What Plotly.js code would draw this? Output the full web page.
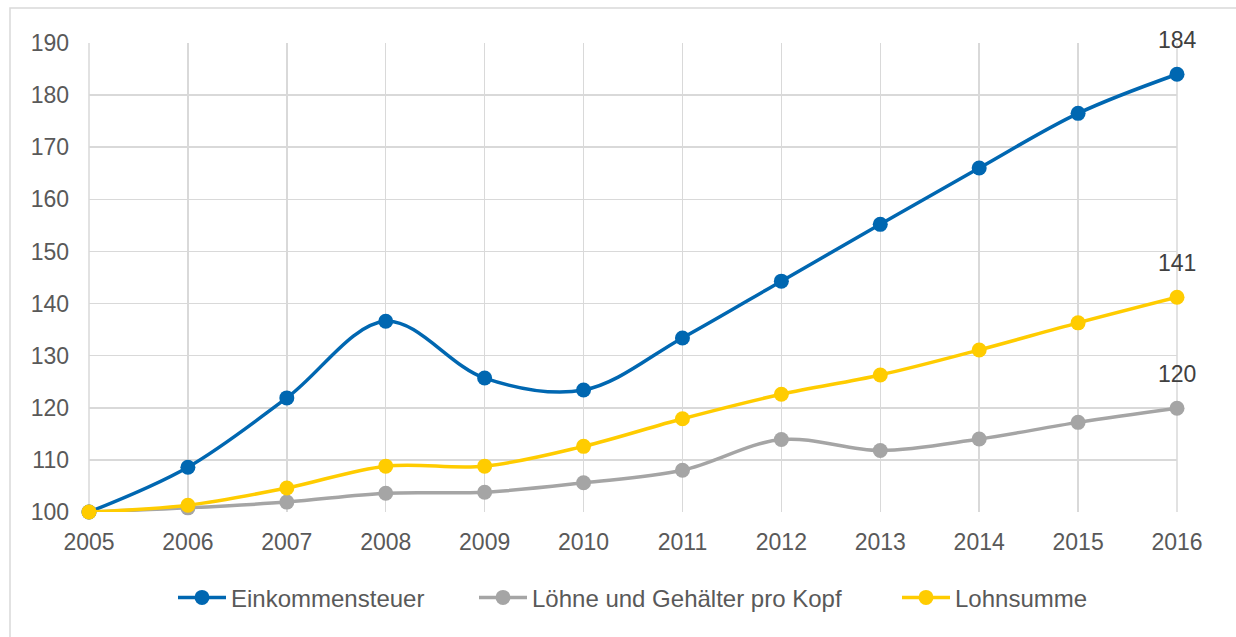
<!DOCTYPE html>
<html><head><meta charset="utf-8">
<script src="https://cdn.plot.ly/plotly-3.0.1.min.js"></script>
<style>html,body{margin:0;padding:0;background:#fff}#chart{width:1236px;height:637px}</style>
</head><body><div id="chart"></div>
<script>
const years = [2005,2006,2007,2008,2009,2010,2011,2012,2013,2014,2015,2016];
const einkommensteuer = [100,108.6,121.9,136.6,125.7,123.4,133.4,144.3,155.2,166.0,176.5,184.0];
const loehneProKopf = [100,100.8,101.9,103.6,103.8,105.6,108.0,113.9,111.8,114.0,117.2,119.9];
const lohnsumme = [100,101.3,104.6,108.8,108.8,112.6,117.9,122.6,126.3,131.1,136.3,141.2];
const seriesNames = ["Einkommensteuer","Löhne und Gehälter pro Kopf","Lohnsumme"];
const endLabels = ["184","120","141"];
const colors = ["#0067B1","#A5A5A5","#FFCC00"];

const font = "Liberation Sans, Arial, sans-serif";
const allSeries = [einkommensteuer, loehneProKopf, lohnsumme];
const legendIds = ['legend','legend2','legend3'];
const data = allSeries.map((vals,k)=>({
  x: years, y: vals, name: seriesNames[k], type:'scatter', mode:'lines+markers',
  line:{color:colors[k], width:3.5, shape:'spline', smoothing:1},
  marker:{color:colors[k], size:15},
  cliponaxis:false, legend: legendIds[k]
}));

const annotations = allSeries.map((vals,k)=>({
  x: years[years.length-1], y: vals[vals.length-1], text: endLabels[k],
  xref:'x', yref:'y', showarrow:false, yshift:34,
  font:{family:font, size:23, color:'#404040'}
}));

const legendFont = {family:font, size:24, color:'#595959'};
function legendAt(px){
  return {orientation:'h', x:(px-89)/1088, xanchor:'left', y:-0.183, yanchor:'middle',
    font:legendFont, itemwidth:48, bgcolor:'rgba(0,0,0,0)', borderwidth:0};
}

const layout = {
  width:1236, height:637,
  margin:{l:89, r:59, t:43, b:125},
  paper_bgcolor:'#fff', plot_bgcolor:'#fff',
  font:{family:font, size:23, color:'#595959'},
  showlegend:true,
  legend: legendAt(173), legend2: legendAt(474), legend3: legendAt(897),
  annotations: annotations,
  xaxis:{range:[2005,2016], tickvals:years, ticktext:years.map(String),
    showgrid:true, gridcolor:'#D9D9D9', gridwidth:1.5, zeroline:false,
    showline:false, ticks:'', ticklabelstandoff:14,
    tickfont:{family:font, size:23, color:'#595959'}},
  yaxis:{range:[100,190], dtick:10, showgrid:true, gridcolor:'#D9D9D9', gridwidth:1.5,
    zeroline:false, showline:false, ticks:'', ticklabelstandoff:19,
    tickfont:{family:font, size:23, color:'#595959'}},
  shapes:[
    {type:'line', xref:'paper', yref:'paper', x0:0, x1:0, y0:0, y1:1, line:{color:'#D9D9D9', width:1.5}, layer:'below'},
    {type:'line', xref:'paper', yref:'paper', x0:1, x1:1, y0:0, y1:1, line:{color:'#D9D9D9', width:1.5}, layer:'below'},
    {type:'rect', xref:'paper', yref:'paper', x0:(10-89)/1088, x1:(1250-89)/1088, y0:(512-660)/469, y1:(512-8)/469,
     line:{color:'#D9D9D9', width:1.5}, fillcolor:'rgba(0,0,0,0)'}
  ]
};
Plotly.newPlot('chart', data, layout, {displayModeBar:false, staticPlot:true});
</script></body></html>
